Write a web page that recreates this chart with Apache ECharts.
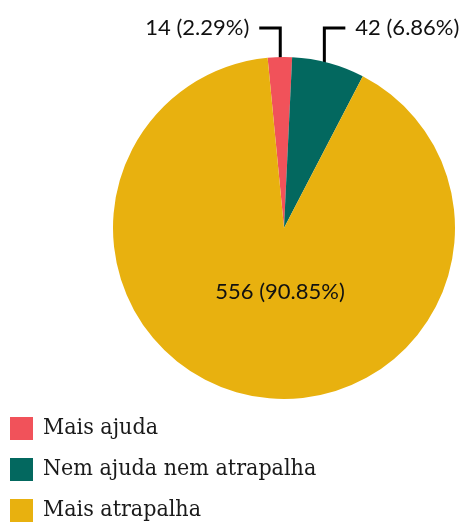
<!DOCTYPE html>
<html>
<head>
<meta charset="utf-8">
<script src="https://cdn.jsdelivr.net/npm/echarts@6/dist/echarts.min.js"></script>
<style>
  html, body { margin: 0; padding: 0; background: #fff; }
  #chart { width: 461px; height: 522px; }
</style>
</head>
<body>
<div id="chart"></div>
<script>
// dados
const categories = ["Mais ajuda", "Nem ajuda nem atrapalha", "Mais atrapalha"];
const values = [14, 42, 556];
const percents = ["2.29%", "6.86%", "90.85%"];
const colors = ["#f1525a", "#03685f", "#e8b10f"];

const cx = 284;
const cy = 228;
const radius = 171;

const myChart = echarts.init(document.getElementById("chart"));

const pieData = categories.map((name, i) => {
  const item = {
    name: name,
    value: values[i],
    itemStyle: { color: colors[i] },
  };
  if (i === 2) {
    item.label = { position: "inside" };
    item.labelLine = { show: false };
  }
  return item;
});

myChart.setOption({
  animation: false,
  legend: {
    orient: "vertical",
    left: 10,
    top: 417,
    height: 150,
    padding: 0,
    icon: "rect",
    itemWidth: 23,
    itemHeight: 23,
    itemGap: 18,
    selectedMode: false,
    itemStyle: { borderWidth: 0 },
    textStyle: {
      fontFamily: "'DejaVu Serif Condensed', 'DejaVu Serif', serif",
      fontSize: 23,
      lineHeight: 23,
      color: "#1a1a1a",
      padding: [0, 0, 0, 5],
    },
    data: categories,
  },
  series: [
    {
      type: "pie",
      center: [cx, cy],
      radius: [0, radius],
      startAngle: 95.5,
      clockwise: true,
      avoidLabelOverlap: false,
      label: {
        show: true,
        position: "outside",
        fontFamily: "Lato",
        fontSize: 22,
        color: "#111",
        formatter: (p) => p.value + " (" + percents[p.dataIndex] + ")",
      },
      labelLine: {
        show: true,
        lineStyle: { color: "#000", width: 3 },
      },
      labelLayout: function (params) {
        const i = params.dataIndex;
        if (i === 2) {
          return { x: cx - 4, y: cy + 64, align: "center", verticalAlign: "middle" };
        }
        const p0 = params.labelLinePoints[0];
        const ang = Math.atan2(p0[0] - cx, cy - p0[1]);
        const sx = cx + 155 * Math.sin(ang);
        const sy = cy - 141;
        const topY = 28;
        const dir = ang < 0 ? -1 : 1;
        const ex = sx + dir * 21;
        return {
          x: ex + dir * 10,
          y: topY,
          align: dir < 0 ? "right" : "left",
          verticalAlign: "middle",
          labelLinePoints: [
            [sx, sy],
            [sx, topY],
            [ex, topY],
          ],
        };
      },
      emphasis: { disabled: true },
      data: pieData,
    },
  ],
});
</script>
</body>
</html>
